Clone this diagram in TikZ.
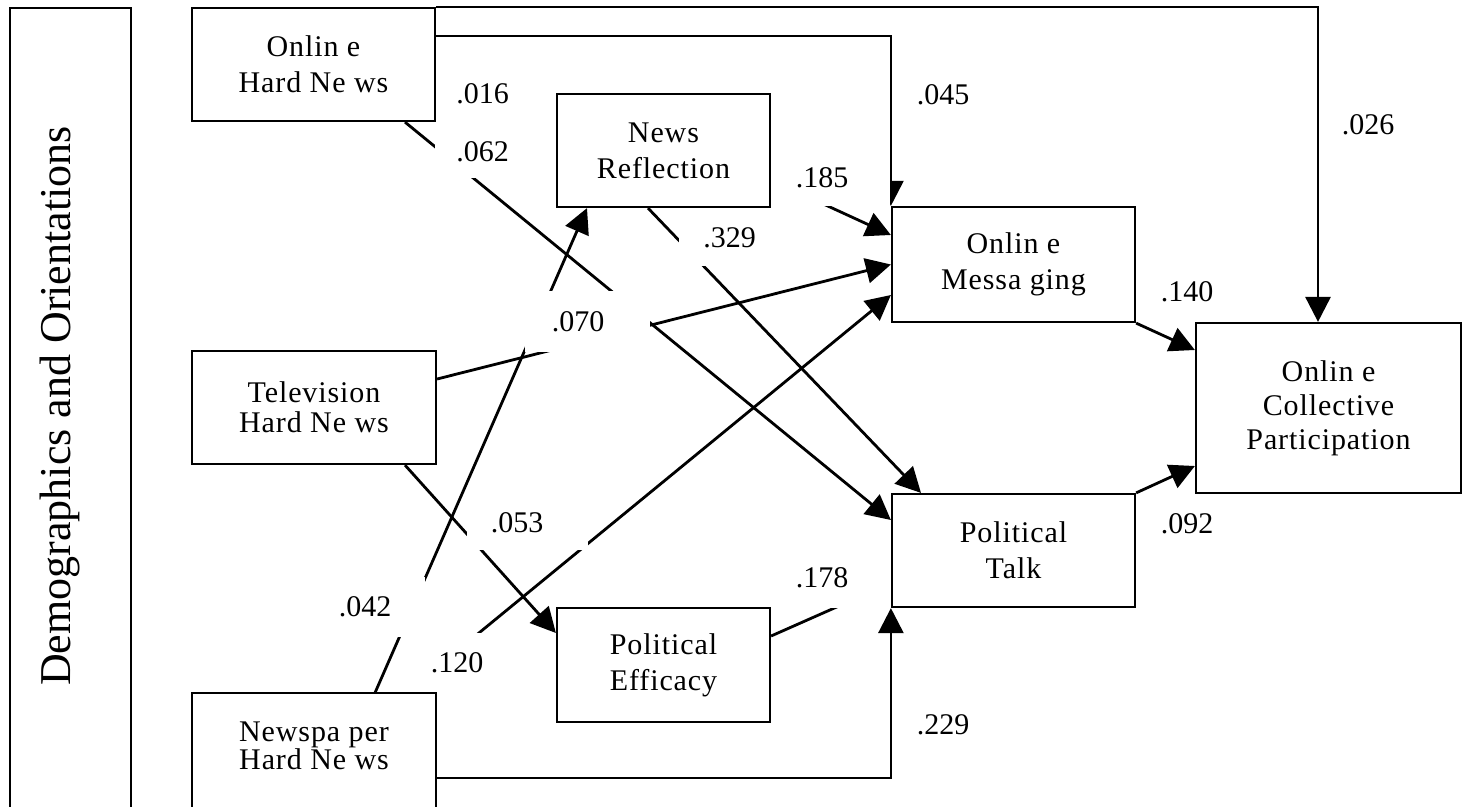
\documentclass[tikz,border=0pt]{standalone}
\usepackage{fontspec}
\setmainfont{Liberation Serif}
\newfontfamily\boxfont[LetterSpace=3]{Liberation Serif}
\usetikzlibrary{arrows.meta}
\pgfdeclarelayer{wires}
\pgfdeclarelayer{tags}
\pgfsetlayers{wires,tags,main}

\begin{document}
\begin{tikzpicture}[x=1pt,y=-1pt,
  box/.style={draw, line width=2.2pt, inner sep=0pt, align=center,
    font={\boxfont\fontsize{30pt}{36pt}\selectfont}},
  openbox/.style={draw=none, inner sep=0pt, align=center,
    font={\boxfont\fontsize{30pt}{36pt}\selectfont}},
  edge/.style={line width=2.2pt},
  conn/.style={line width=2.8pt, -{Triangle[length=25pt,width=25pt]}},
  coef/.style={fill=white, inner sep=0pt, font={\fontsize{30pt}{36pt}\selectfont}},
  coefs/.style={fill=white, inner sep=4pt, font={\fontsize{30pt}{36pt}\selectfont}}]

\useasboundingbox (0,0) rectangle (1464,806);

% ---- variables ----
\node[openbox, minimum width=121pt, minimum height=796pt] (demo) at (70.5,406) {};
\node[rotate=90, inner sep=0pt, font={\fontsize{44pt}{50pt}\selectfont}] (demotext) at (60,406)
  {Demographics and Orientations};

\node[box, minimum width=243pt, minimum height=113pt] (OHN) at (313.5,64.5) {Onlin e\\Hard Ne ws};
\node[box, minimum width=244pt, minimum height=113pt,
  font={\boxfont\fontsize{30pt}{30pt}\selectfont}] (THN) at (314,407.5) {Television\\Hard Ne ws};
\node[openbox, minimum width=244pt, minimum height=106pt,
  font={\boxfont\fontsize{30pt}{28pt}\selectfont}] (NHN) at (314,746) {Newspa per\\Hard Ne ws};
\node[box, minimum width=213pt, minimum height=113pt] (NR) at (663.5,150.5) {News\\Reflection};
\node[box, minimum width=213pt, minimum height=114pt] (PE) at (663.5,665) {Political\\Efficacy};
\node[box, minimum width=243pt, minimum height=115pt] (OM) at (1013.5,264.5) {Onlin e\\Messa ging};
\node[box, minimum width=243pt, minimum height=113pt] (PT) at (1013.5,550.5) {Political\\Talk};
\node[box, minimum width=265pt, minimum height=170pt,
  font={\boxfont\fontsize{30pt}{34pt}\selectfont}] (OCP) at (1328.5,408)
  {Onlin e\\Collective\\Participation};

% boxes running off the bottom edge
\draw[edge] ([yshift=-30pt]demo.south west) -- (demo.north west) -- (demo.north east)
  -- ([yshift=-30pt]demo.south east);
\draw[edge] ([yshift=-30pt]NHN.south west) -- (NHN.north west) -- (NHN.north east)
  -- ([yshift=-30pt]NHN.south east);

% ---- paths ----
\begin{pgfonlayer}{wires}
\draw[conn] (OHN.north east) -| ([xshift=-10.5pt]OCP.north);
\draw[conn] ([yshift=28.5pt]OHN.east) -| (OM.north west);
\draw[conn] ([xshift=91.5pt]OHN.south) -- ([yshift=30.5pt]PT.west);
\draw[conn] ([yshift=-29.5pt]NR.east) -- ([yshift=29.5pt]OM.west);
\draw[conn] ([xshift=-15.5pt]NR.south) -- ([xshift=-92.5pt]PT.north);
\draw[conn] ([yshift=28.5pt]THN.east) -- (OM.west);
\draw[conn] ([xshift=61pt]NHN.north) -- ([xshift=-76.5pt]NR.south);
\draw[conn] ([xshift=91pt]THN.south) -- ([yshift=32pt]PE.west);
\draw[conn] ([xshift=92pt]NHN.north) -- ([yshift=-30.5pt]OM.west);
\draw[conn] ([yshift=29pt]PE.east) -- ([yshift=-32.5pt]PT.west);
\draw[conn] ([yshift=-32pt]NHN.east) -| (PT.south west);
\draw[conn] (OM.south east) -- ([yshift=58pt]OCP.west);
\draw[conn] (PT.north east) -- ([yshift=-58pt]OCP.west);
\end{pgfonlayer}

% ---- coefficients ----
\begin{pgfonlayer}{tags}
\node[coef, minimum width=95pt, minimum height=62pt] (l016) at (482.5,94) {.016};
\node[coef, minimum width=95pt, minimum height=53pt] (l062) at (482.5,151.5) {.062};
\node[coefs] (l045) at (943,95) {.045};
\node[coefs] (l026) at (1368,125) {.026};
\node[coef, minimum width=119.5pt, minimum height=56pt] (l185) at (829.75,178) {.185\hspace*{15.5pt}};
\node[coef, minimum width=101pt, minimum height=57pt] (l329) at (729.5,237.5) {.329};
\node[coef, minimum width=125pt, minimum height=61pt] (l070) at (587.5,321.5) {.070\hspace*{19pt}};
\node[coef, minimum width=120pt, minimum height=57pt] (l140) at (1197,291.5) {.140\hspace*{20pt}};
\node[coef, minimum width=120pt, minimum height=57pt] (l092) at (1197,523.5) {.092\hspace*{20pt}};
\node[coef, minimum width=121pt, minimum height=55pt] (l053) at (527.5,522.5) {.053\hspace*{21pt}};
\node[coef, minimum width=111pt, minimum height=60pt] (l178) at (835.5,578) {.178\hspace*{27pt}};
\node[coef, minimum width=95pt, minimum height=60pt] (l042) at (377.5,607) {.042\hspace*{25pt}};
\node[coef, minimum width=97pt, minimum height=59pt] (l120) at (451.5,662.5) {\hspace*{11pt}.120};
\node[coefs] (l229) at (943,725) {.229};
\end{pgfonlayer}

\end{tikzpicture}
\end{document}
